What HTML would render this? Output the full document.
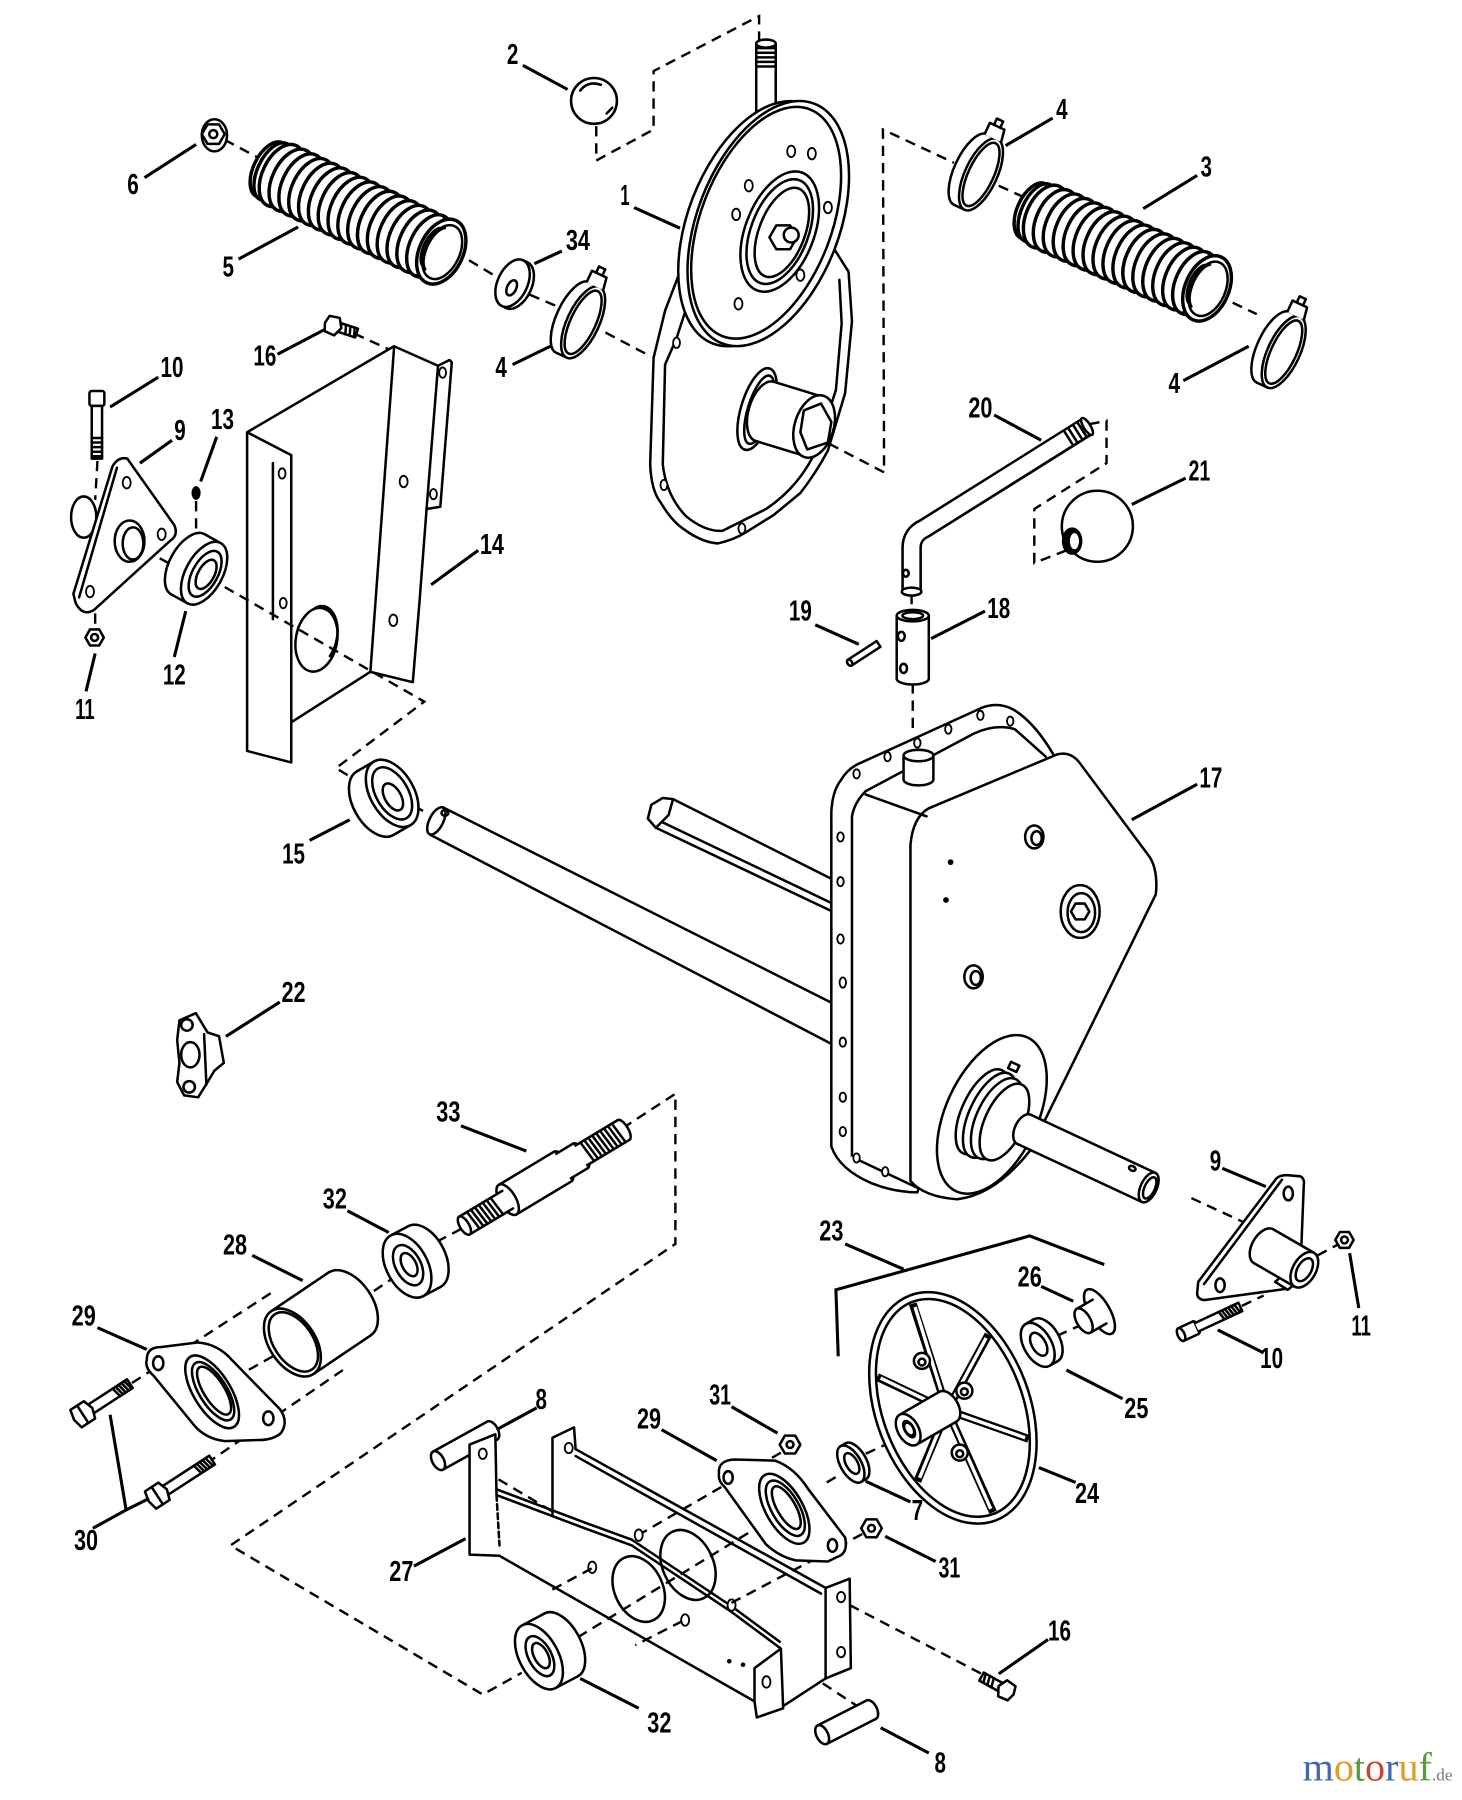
<!DOCTYPE html>
<html><head><meta charset="utf-8">
<style>
html,body{margin:0;padding:0;background:#fff;}
svg{display:block;}
.l{fill:none;stroke:#000;stroke-width:2.2;stroke-linejoin:round;stroke-linecap:round}
.w{fill:#fff;stroke:#000;stroke-width:2.2;stroke-linejoin:round}
.d{fill:none;stroke:#000;stroke-width:2.1;stroke-dasharray:9 6}
.ld{fill:none;stroke:#000;stroke-width:2.7}
.r{fill:#fff;stroke:#000;stroke-width:3}
.h{fill:#fff;stroke:#000;stroke-width:1.6}
text.n{font-family:"Liberation Sans",sans-serif;font-weight:bold;font-size:25px;fill:#000;text-anchor:middle}
</style></head><body>
<svg width="1462" height="1800" viewBox="0 0 1275 1570" preserveAspectRatio="none" xmlns="http://www.w3.org/2000/svg" xmlns:xlink="http://www.w3.org/1999/xlink">
<defs>
<g id="rg"><ellipse cx="12" rx="17" ry="29" class="r"/><ellipse cx="21.5" rx="17" ry="29" class="r"/><ellipse cx="31" rx="17" ry="29" class="r"/><ellipse cx="40.5" rx="17" ry="29" class="r"/><ellipse cx="50" rx="17" ry="29" class="r"/><ellipse cx="59.5" rx="17" ry="29" class="r"/></g>
<g id="bel">
<ellipse cx="0" rx="14" ry="26" class="r" stroke-width="3.4"/>
<ellipse cx="4" rx="14" ry="27" class="r"/>
<use href="#rg"/>
<use href="#rg" transform="translate(57,0)"/>
<use href="#rg" transform="translate(95,0)"/>
<path d="M155,-28H166V28H155Z" fill="#fff"/>
<path d="M155,-28H166M155,28H166" class="l"/>
<ellipse cx="166" rx="19" ry="30" class="r"/>
<ellipse cx="167" rx="15" ry="25" class="l" stroke-width="2.4"/>
<path class="l" stroke-width="3" d="M160,-20 A10,21 0 0,0 160,20 M156,-18 A9,19 0 0,0 156,18"/>
</g>
<g id="clamp">
<ellipse cx="-5" rx="14" ry="34" class="w"/>
<path d="M-5,-34H5V34H-5Z" fill="#fff"/>
<path d="M-5,-34H5M-5,34H5" class="l"/>
<ellipse cx="5" rx="14" ry="34" class="w" stroke-width="2.4"/>
<ellipse cx="5" rx="11" ry="30" class="l" stroke-width="1.4"/>
<path d="M-7,-33 L-7,-44 L7,-44 L9,-33" class="w"/>
<path d="M-3,-44 v-6 h6 v6" class="l"/>
</g>
</defs>
<rect x="0" y="0" width="1275" height="1570" fill="#fff"/>

<g class="d">
<path d="M520,110 L520,140 L570,113 L570,62 L662,14 L662,36"/>
<path d="M196,122 L224,137 M409,227 L434,242 M462,257 L490,269 M528,290 L564,309"/>
<path d="M723,387 L771,412 L770,113 L832,142"/>
<path d="M871,162 L893,172 M1075,264 L1096,274 M309,291 L342,306"/>
<path d="M950,370 L965,367 L965,404 L902,444 L902,491 L930,480"/>
<path d="M795,518 L795,532 M796,596 L796,640 M85,402 L83,436 M171,437 L171,470 M126,480 L160,498 M83,535 L83,550 M361,703 L372,709"/>
<path d="M543,984 L589,954 L589,1085 L201,1348 L421,1478 L455,1459"/>
<path d="M381,1083 L402,1072 M326,1126 L341,1116 M236,1128 L114,1207 M299,1195 L185,1273 M238,1183 L213,1197 M409,1275 L530,1347"/>
<path d="M1039,1045 L1104,1075 M1149,1095 L1166,1086 M1083,1139 L1102,1130 M877,1195 L891,1189 M922,1165 L940,1157"/>
<path d="M755,1268 L781,1256 M721,1293 L733,1286 M741,1400 L860,1462 M705,1460 L752,1491"/>
</g>

<circle cx="518" cy="88" r="20" class="w"/>
<path class="l" d="M506,79 Q513,70 524,74 M529,99 l5,-5"/>

<g transform="translate(668,38) rotate(90)"><ellipse cx="66" rx="3.5" ry="8.5" class="w"/><path d="M0,-8.5H66V8.5H0Z" fill="#fff"/><path d="M0,-8.5H66M0,8.5H66" class="l"/><path d="M4,-8.5V8.5M8,-8.5V8.5M12,-8.5V8.5M16,-8.5V8.5M20,-8.5V8.5" class="l" stroke-width="1.3"/><ellipse rx="3.5" ry="8.5" class="w"/></g>
<path class="w" stroke-width="2.5" d="M622,138 L593,237 L580,271 L570,312 L567,405 Q568,428 576,438 Q586,455 597,462 Q612,473 626,474 Q640,471 651,464 L675,449 L698,430 Q712,412 722,393 L737,343 L743,280 L740,237 L728,218 Z"/>
<path class="l" d="M606,246 L590,295 L580,318 L578,405 Q581,432 598,450 Q615,464 630,463 L668,444 Q698,424 713,390 L729,340 L734,282 L732,244"/>
<g class="h"><ellipse cx="590" cy="299" rx="3" ry="4.5"/><ellipse cx="579" cy="423" rx="3" ry="4.5"/><ellipse cx="647" cy="461" rx="3" ry="4.5"/></g>
<g transform="translate(670,195) rotate(21)">
<ellipse cx="-7.5" cy="3" rx="62" ry="112" class="w" stroke-width="2.5"/>
<ellipse rx="62" ry="112" class="w" stroke-width="2.5"/>
<ellipse cx="-2" rx="57" ry="106" class="l" stroke-width="1.4"/>
</g>
<g transform="translate(680,202) rotate(21)">
<ellipse rx="30" ry="55" class="w" stroke-width="2.6"/>
<ellipse rx="25" ry="48" class="l"/>
<ellipse cx="2" rx="20" ry="41" class="l" stroke-width="1.3"/>
</g>
<polygon points="695,207 689,217.4 677,217.4 671,207 677,196.6 689,196.6" class="w" stroke-width="2.8"/>
<circle cx="690" cy="205" r="6.5" class="w" stroke-width="2.4"/>
<g class="h"><ellipse cx="690" cy="132" rx="3.5" ry="5"/><ellipse cx="708" cy="134" rx="3.5" ry="5"/><ellipse cx="653" cy="162" rx="3.5" ry="5"/><ellipse cx="642" cy="187" rx="3.5" ry="5"/><ellipse cx="722" cy="181" rx="3.5" ry="5"/><ellipse cx="698" cy="240" rx="3.5" ry="5"/><ellipse cx="644" cy="265" rx="3.5" ry="5"/></g>
<g transform="translate(710,372) rotate(17)">
<ellipse cx="-52" rx="14" ry="37" class="w" stroke-width="2.6"/>
<ellipse cx="-50" rx="10" ry="31" class="l"/>
<ellipse cx="-45" rx="14" ry="27" class="w"/>
<path d="M-45,-27H0V27H-45Z" fill="#fff"/>
<path d="M-45,-27H0M-45,27H0" class="l"/>
<ellipse rx="17" ry="28" class="w" stroke-width="2.5"/>
</g>
<polygon points="701,358 716,352 725,368 722,386 704,392 698,377" class="w"/>

<use href="#clamp" transform="translate(504,279) rotate(25)"/>
<use href="#clamp" transform="translate(851,150) rotate(25)"/>
<use href="#clamp" transform="translate(1115,305) rotate(25)"/>
<use href="#bel" transform="translate(235,148) rotate(25.5)"/>
<use href="#bel" transform="translate(901,184) rotate(24)"/>

<g transform="translate(447,247) rotate(25)"><ellipse cx="4" rx="13" ry="22" class="w"/><path d="M0,-22H4V22H0Z" fill="#fff"/><path d="M0,-22H4M0,22H4" class="l"/><ellipse rx="13" ry="22" class="w"/><ellipse cx="1" cy="4" rx="4" ry="7" class="l"/></g>
<ellipse cx="187" cy="118" rx="11" ry="14" class="w"/>
<polygon points="196,117 191,125.5 181,125.5 176,117 181,108.5 191,108.5" class="w" stroke-width="2.4"/>
<circle cx="186" cy="117" r="3.5" class="l"/>

<g transform="translate(291,284) rotate(18)"><path class="w" d="M6,-4H21V4H6Z"/><path d="M10,-4l2,8M14,-4l2,8M18,-4l2,8" class="l" stroke-width="1.2"/><polygon points="-6,-7 3,-8 7,0 3,8 -6,7 -8,0" class="w" stroke-width="2.4"/></g>

<path class="w" d="M215.5,377 L343.6,302 L382,319 L392,314 L394,316 L384,442 L372,444 L366,523 L360,595 L323,586 L254,630 L254,665 L215.5,655 Z"/>
<path class="l" d="M343.6,304 L323,586 M382,319 L372,444 M254,397 L254,630 M215.5,377 L254,397"/>
<line class="l" x1="238" y1="404" x2="238" y2="540" stroke-width="1.6"/>
<g transform="translate(276,558) rotate(10)"><ellipse rx="18" ry="28" class="l"/><path class="l" d="M-6,-27 A16,26 0 0,1 14,12" stroke-width="1.5"/></g>
<g class="h"><ellipse cx="246" cy="413" rx="3" ry="4.5"/><ellipse cx="247" cy="526" rx="3" ry="4.5"/><ellipse cx="352" cy="420" rx="3.5" ry="5"/><ellipse cx="378" cy="431" rx="3" ry="4.5"/><ellipse cx="386" cy="325" rx="3" ry="4.5"/><ellipse cx="343" cy="541" rx="3.5" ry="5"/></g>
<path class="d" d="M196,512 L370,612 L293,670 L313,682"/>

<ellipse cx="73" cy="451" rx="11" ry="18" class="w"/>
<path class="w" d="M98,407 Q103,398 111,400 L152,458 Q156,467 148,472 L82,532 Q72,538 66,526 L64,518 Z"/>
<line class="l" x1="102" y1="408" x2="69" y2="521" stroke-width="1.6"/>
<g class="h"><ellipse cx="110.5" cy="421" rx="3.5" ry="5"/><ellipse cx="141" cy="466" rx="3.5" ry="5"/><ellipse cx="78.5" cy="516" rx="3.5" ry="5"/></g>
<ellipse cx="113" cy="472" rx="13" ry="18" class="w"/>
<ellipse cx="116" cy="474" rx="9" ry="14" class="l"/>
<rect x="78" y="341" width="13" height="13" rx="2" class="w"/>
<rect x="80" y="354" width="9" height="46" class="w"/>
<path d="M80,382h9M80,386h9M80,390h9M80,394h9M80,398h9" class="l" stroke-width="1.3"/>
<ellipse cx="171" cy="430" rx="4" ry="6" fill="#000"/>
<g transform="translate(178,500) rotate(29)"><ellipse cx="-16" rx="16" ry="30" class="w"/><path d="M-16,-30H0V30H-16Z" fill="#fff"/><path d="M-16,-30H0M-16,30H0" class="l"/><ellipse rx="16" ry="30" class="w" stroke-width="2.4"/><ellipse cx="1" rx="11" ry="22" class="l" stroke-width="2.4"/><ellipse cx="2" rx="7" ry="14" class="l"/></g>
<polygon points="90.5,556 86.5,563 78.5,563 74.5,556 78.5,549 86.5,549" class="w" stroke-width="2.3"/>
<circle cx="82.5" cy="556" r="3" class="l"/>

<g transform="translate(342,692) rotate(-30)"><ellipse cx="-17" rx="19" ry="32" class="w"/><path d="M-17,-32H0V32H-17Z" fill="#fff"/><path d="M-17,-32H0M-17,32H0" class="l"/><ellipse rx="19" ry="32" class="w" stroke-width="2.4"/><ellipse rx="14" ry="25" class="l" stroke-width="1.4"/><ellipse cx="-1" cy="3" rx="7" ry="13" class="w" stroke-width="2.4"/></g>

<path class="w" d="M386,704 L728,876 L728,912 L375,728 Z"/>
<g transform="translate(380.5,716) rotate(27)"><ellipse rx="6" ry="13" class="w"/></g>
<ellipse cx="388" cy="709" rx="3" ry="2.5" class="l"/>
<path class="w" d="M587,697 L728,768 L728,796 L572,722 L565,714 Z"/>
<line class="l" x1="569" y1="713" x2="728" y2="789"/>
<polygon points="578,696 587,697 583,711 572,722 565,714 568,702" class="w"/>

<path class="w" stroke-width="3" d="M725,1000 L725,708 Q726,690 733,681 Q738,672 747,667 L857,617 Q871,612 884,619 Q902,630 918,657 L922,663 L800,1040 Q780,1040 760,1032 Q732,1020 725,1000 Z"/>
<path class="l" d="M743,1008 L743,712 Q745,700 755,690 L849,640 Q868,631 885,636 L912,660 M745,1010 L800,1036"/>
<path class="w" stroke-width="2.4" d="M794,1030 L794,737 Q796,713 810,705 L922,658 Q934,655 942,666 L1003,748 Q1010,760 1008,780 L898,1004 Q868,1042 835,1046 Q806,1044 794,1030 Z"/>
<line class="l" x1="755" y1="693" x2="808" y2="712"/>
<g class="h">
<ellipse cx="747" cy="675" rx="2.8" ry="4"/><ellipse cx="774" cy="660" rx="2.8" ry="4"/><ellipse cx="800" cy="648" rx="2.8" ry="4"/><ellipse cx="827" cy="636" rx="2.8" ry="4"/><ellipse cx="855" cy="624" rx="2.8" ry="4"/><ellipse cx="881" cy="629" rx="2.8" ry="4"/>
<ellipse cx="733" cy="730" rx="2.8" ry="4"/><ellipse cx="733" cy="769" rx="2.8" ry="4"/><ellipse cx="733" cy="819" rx="2.8" ry="4"/><ellipse cx="735" cy="857" rx="2.8" ry="4.5"/><ellipse cx="735" cy="909" rx="2.8" ry="4"/><ellipse cx="735" cy="957" rx="2.8" ry="4"/><ellipse cx="735" cy="987" rx="2.8" ry="4"/><ellipse cx="747" cy="1010" rx="2.8" ry="4"/><ellipse cx="772" cy="1022" rx="2.8" ry="4"/>
</g>
<g transform="translate(801,659) rotate(90)"><ellipse cx="21" rx="5" ry="13" class="w"/><path d="M0,-13H21V13H0Z" fill="#fff"/><path d="M0,-13H21M0,13H21" class="l"/><ellipse rx="5" ry="13" class="w"/></g>
<ellipse cx="902" cy="730" rx="8" ry="10" class="w" stroke-width="2.4"/>
<ellipse cx="904" cy="731" rx="4.5" ry="6" class="l"/>
<circle cx="829" cy="752" r="2.5" fill="#000"/>
<circle cx="825" cy="785" r="2.5" fill="#000"/>
<ellipse cx="942" cy="795" rx="17" ry="23" class="w" stroke-width="2.4"/>
<ellipse cx="943" cy="796" rx="12" ry="17" class="l"/>
<polygon points="950,795 946,801.9 938,801.9 934,795 938,788.1 946,788.1" class="w" stroke-width="2.4"/>
<ellipse cx="849" cy="852" rx="8" ry="10" class="w" stroke-width="2.4"/>
<ellipse cx="851" cy="853" rx="4.5" ry="6" class="l"/>
<g transform="translate(865,972) rotate(25)"><ellipse rx="40" ry="74" class="w" stroke-width="2.4"/></g>
<g transform="translate(866,974) rotate(25)">
<ellipse cx="-10" rx="18" ry="40" class="w" stroke-width="2.6"/>
<ellipse cx="-3" rx="18" ry="40" class="w" stroke-width="2.6"/>
<ellipse cx="4" rx="18" ry="38" class="w" stroke-width="2.6"/>
<ellipse cx="11" rx="17" ry="36" class="w" stroke-width="2.4"/>
<path d="M-6,-44 h8 v-6 h-8z" class="w"/>
</g>
<g transform="translate(893,985) rotate(25)"><ellipse rx="8" ry="14" class="w"/><path d="M0,-14H120V14H0Z" fill="#fff"/><path d="M0,-14H120M0,14H120" class="l"/><ellipse cx="120" rx="7" ry="14" class="w"/><ellipse cx="121" rx="4.5" ry="10" class="l"/><ellipse cx="100" cy="-9" rx="3" ry="2" class="l"/></g>

<g transform="translate(796,537) rotate(90)"><ellipse cx="55" rx="5" ry="14" class="w"/><path d="M0,-14H55V14H0Z" fill="#fff"/><path d="M0,-14H55M0,14H55" class="l"/><ellipse rx="5" ry="14" class="w"/><ellipse rx="3" ry="9" class="l"/></g>
<ellipse cx="786" cy="555" rx="3" ry="4" class="l"/>
<ellipse cx="788" cy="583" rx="3" ry="4" class="l"/>
<g transform="translate(741,578) rotate(-33)"><path d="M0,-3H30V3H0Z" class="w"/><ellipse rx="2" ry="3" class="w"/></g>
<path d="M795,516 L795,478 Q795,466 806,461 L948,372" stroke="#000" stroke-width="18" fill="none"/>
<path d="M795,514 L795,478 Q795,466 806,461 L946,373" stroke="#fff" stroke-width="13.5" fill="none"/>
<ellipse cx="795" cy="516" rx="8.5" ry="3.5" class="w"/>
<ellipse cx="790" cy="500" rx="2.5" ry="3" class="l"/>
<path class="l" stroke-width="1.3" d="M928,376 l7,11 M932,374 l7,11 M936,371 l7,11 M940,369 l7,11 M944,366 l6,10"/>
<g transform="translate(948,372) rotate(-32)"><ellipse rx="3" ry="8.5" class="w"/></g>
<circle cx="957" cy="459" r="31" class="w" stroke-width="2.4"/>
<ellipse cx="935" cy="472" rx="9" ry="12" fill="#000"/>
<ellipse cx="937" cy="472" rx="4" ry="7" fill="#fff"/>

<path class="w" stroke-width="2.5" d="M156.5,890 L170.8,883.7 L181,900.5 L191,903.8 L195.2,927.1 L187,933.8 L179,947.1 L172.8,957.1 L160.6,955.4 L154.5,943.8 L156.5,927.1 L154.5,907.1 Z"/>
<circle cx="163" cy="894" r="5" class="w" stroke-width="2.4"/>
<circle cx="165" cy="948" r="5" class="w" stroke-width="2.4"/>
<ellipse cx="166" cy="920" rx="8" ry="11" class="w" stroke-width="2.6"/>
<line class="l" x1="178" y1="902" x2="180" y2="946"/>

<g transform="translate(405,1069) rotate(-31)">
<ellipse cx="118" rx="5" ry="12.5" class="w"/>
<ellipse cx="162" rx="4" ry="10" class="w"/>
<path d="M118,-10H162V10H118Z" fill="#fff"/>
<path d="M118,-10H162M118,10H162" class="l"/>
<path class="l" stroke-width="1.4" d="M124,-10l2,20M128,-10l2,20M132,-10l2,20M136,-10l2,20M140,-10l2,20M144,-10l2,20M148,-10l2,20M152,-10l2,20M156,-10l2,20"/>
<ellipse cx="100" rx="6" ry="15" class="w"/>
<path d="M100,-12.5H118V12.5H100Z" fill="#fff"/>
<path d="M100,-12.5H118M100,12.5H118" class="l"/>
<path d="M44,-15H100V15H44Z" fill="#fff"/>
<path d="M44,-15H100M44,15H100" class="l"/>
<ellipse cx="44" rx="7" ry="15" class="w"/>
<path d="M0,-9H44V9H0Z" fill="#fff"/>
<path d="M0,-9H44M0,9H44" class="l"/>
<path class="l" stroke-width="1.4" d="M8,-9l2,18M12,-9l2,18M16,-9l2,18M20,-9l2,18M24,-9l2,18M28,-9l2,18M32,-9l2,18"/>
<ellipse rx="4" ry="9" class="w"/>
</g>

<g transform="translate(355,1104) rotate(-28)"><ellipse cx="17" rx="18" ry="30" class="w"/><path d="M0,-30H17V30H0Z" fill="#fff"/><path d="M0,-30H17M0,30H17" class="l"/><ellipse rx="18" ry="30" class="w" stroke-width="2.4"/><ellipse cx="1" rx="11" ry="19" class="l" stroke-width="2.6"/><ellipse cx="2" rx="6" ry="11" class="w"/></g>
<g transform="translate(255,1171) rotate(-34)"><ellipse cx="60" rx="20" ry="33" class="w"/><path d="M0,-33H60V33H0Z" fill="#fff"/><path d="M0,-33H60M0,33H60" class="l"/><ellipse rx="20" ry="33" class="w" stroke-width="2.4"/><ellipse cx="1" rx="17" ry="29" class="l"/></g>

<path class="w" stroke-width="2.4" d="M128,1186 Q128,1175 140,1175 L172,1171 Q190,1172 203,1187 L244,1229 Q252,1240 245,1250 Q238,1256 226,1256 L196,1257 Q180,1255 170,1244 L134,1200 Q126,1193 128,1186 Z"/>
<ellipse cx="138" cy="1189" rx="4.5" ry="6" class="w"/>
<ellipse cx="234" cy="1237" rx="4.5" ry="6" class="w"/>
<g transform="translate(185,1214) rotate(-32)"><ellipse rx="16" ry="36" class="w" stroke-width="2.4"/><ellipse cx="1" rx="12" ry="29" class="l" stroke-width="2.6"/><ellipse cx="2" rx="9" ry="24" class="l" stroke-width="1.3"/></g>
<g transform="translate(73,1233) rotate(-33)"><path d="M8,-4.5H48V4.5H8Z" class="w"/><path class="l" stroke-width="1.3" d="M33,-4.5l2,9M36,-4.5l2,9M39,-4.5l2,9M42,-4.5l2,9M45,-4.5l2,9"/><polygon points="-8,-9 6,-9 9,0 6,9 -8,9 -10,0" class="w" stroke-width="2.4"/><line x1="-1" y1="-9" x2="-1" y2="9" class="l" stroke-width="1.3"/></g>
<g transform="translate(138,1304) rotate(-33)"><path d="M8,-4.5H56V4.5H8Z" class="w"/><path class="l" stroke-width="1.3" d="M40,-4.5l2,9M43,-4.5l2,9M46,-4.5l2,9M49,-4.5l2,9M52,-4.5l2,9"/><polygon points="-8,-9 6,-9 9,0 6,9 -8,9 -10,0" class="w" stroke-width="2.4"/><line x1="-1" y1="-9" x2="-1" y2="9" class="l" stroke-width="1.3"/></g>

<g transform="translate(382,1274) rotate(-29)"><ellipse cx="54" rx="5" ry="9" class="w"/><path d="M0,-9H54V9H0Z" fill="#fff"/><path d="M0,-9H54M0,9H54" class="l"/><ellipse rx="5" ry="9" class="w"/></g>
<g transform="translate(717,1513) rotate(-27)"><ellipse cx="48" rx="5" ry="9" class="w"/><path d="M0,-9H48V9H0Z" fill="#fff"/><path d="M0,-9H48M0,9H48" class="l"/><ellipse rx="5" ry="9" class="w"/></g>

<path class="w" d="M481.8,1254 L500.6,1245 L502,1264 L720,1385 L741,1377 L742,1455 L720,1464 L680,1490 L481.8,1322 Z"/>
<path class="l" d="M502,1270 L716,1390 M720,1385 L720,1464"/>
<g class="h"><ellipse cx="496" cy="1263" rx="3.5" ry="4.5"/><ellipse cx="733.5" cy="1393" rx="3.5" ry="4.5"/><ellipse cx="733.5" cy="1441" rx="3.5" ry="4.5"/></g>
<path class="w" d="M409.5,1260 L432,1251 L433,1304 L510,1333 L551,1348 L638,1406 L681,1438 L683,1490 L660,1498 L658,1484 L435.6,1357 L409.5,1356 Z"/>
<path class="l" stroke-width="1.8" d="M433,1299 L510,1328 L551,1343 L638,1401 L680,1432"/>
<line class="l" x1="433" y1="1304" x2="435.6" y2="1348" stroke-width="1.5" stroke-dasharray="5 3"/>
<path class="l" d="M658,1455 L658,1484 M658,1455 L681,1438"/>
<g transform="translate(557,1386) rotate(-25)"><ellipse rx="21" ry="30" class="l"/></g>
<g transform="translate(600,1365) rotate(-25)"><ellipse rx="22" ry="32" class="l"/></g>
<g class="h"><ellipse cx="421" cy="1268" rx="3.5" ry="4.5"/><ellipse cx="516.5" cy="1367" rx="3.5" ry="5"/><ellipse cx="557" cy="1339" rx="3.5" ry="5"/><ellipse cx="597.5" cy="1413" rx="3.5" ry="5"/><ellipse cx="638" cy="1400" rx="3.5" ry="5"/><ellipse cx="668.4" cy="1467" rx="3.5" ry="5"/></g>
<circle cx="636" cy="1449" r="2" fill="#000"/>
<circle cx="648" cy="1452" r="2" fill="#000"/>
<path class="d" d="M504,1428 L687,1316 M516,1368 L477,1389 M595,1414 L554,1435 M681,1267 L560,1337 M752,1338 L638,1398"/>

<path class="w" stroke-width="2.4" d="M627,1285 Q626,1274 640,1273 L676,1274 Q693,1280 705,1299 L737,1341 Q740,1355 730,1358 L722,1362 L694,1361 Q680,1358 668,1347 L632,1297 Q626,1292 627,1285 Z"/>
<ellipse cx="635" cy="1288.7" rx="4" ry="5.5" class="w"/>
<ellipse cx="726" cy="1348" rx="4" ry="5.5" class="w"/>
<g transform="translate(684,1316) rotate(-30)"><ellipse rx="16" ry="34" class="w" stroke-width="2.4"/><ellipse cx="1" rx="12" ry="27" class="l" stroke-width="2.6"/><ellipse cx="2" rx="8" ry="21" class="l" stroke-width="1.3"/></g>
<polygon points="698,1260 693.5,1267.8 684.5,1267.8 680,1260 684.5,1252.2 693.5,1252.2" class="w" stroke-width="2.4"/>
<circle cx="689" cy="1260" r="3" class="l"/>
<polygon points="769,1333 764.5,1340.8 755.5,1340.8 751,1333 755.5,1325.2 764.5,1325.2" class="w" stroke-width="2.4"/>
<circle cx="760" cy="1333" r="3" class="l"/>
<g transform="translate(742,1277) rotate(-30)"><ellipse cx="5" rx="9" ry="18" class="w"/><path d="M0,-18H5V18H0Z" fill="#fff"/><path d="M0,-18H5M0,18H5" class="l"/><ellipse rx="9" ry="18" class="w" stroke-width="2.4"/><ellipse cx="1" rx="5" ry="10" class="w"/></g>

<g transform="translate(470,1445) rotate(-28)"><ellipse cx="22" rx="17" ry="31" class="w"/><path d="M0,-31H22V31H0Z" fill="#fff"/><path d="M0,-31H22M0,31H22" class="l"/><ellipse rx="17" ry="31" class="w" stroke-width="2.4"/><ellipse cx="1" rx="10" ry="19" class="l" stroke-width="2.6"/><ellipse cx="2" rx="6" ry="12" class="w"/></g>
<g transform="translate(877,1474) rotate(209)"><path d="M6,-4H24V4H6Z" class="w"/><path d="M12,-4l2,8M16,-4l2,8M20,-4l2,8" class="l" stroke-width="1.2"/><polygon points="-6,-7 3,-8 7,0 3,8 -6,7 -8,0" class="w" stroke-width="2.4"/></g>

<g transform="translate(831,1228) rotate(-21)"><ellipse rx="67" ry="105" class="w" stroke-width="2.8"/><ellipse rx="61" ry="99" class="l" stroke-width="2"/></g>
<path d="M826,1230 L866,1319 M826,1230 L796,1137 M826,1230 L897,1255 M826,1230 L800,1292 M826,1230 L765,1201 M826,1230 L862,1164" stroke="#000" stroke-width="7" fill="none"/>
<path d="M826,1230 L864,1316 M826,1230 L798,1140 M826,1230 L894,1254 M826,1230 L802,1289 M826,1230 L768,1202 M826,1230 L860,1167" stroke="#fff" stroke-width="3" fill="none"/>
<g class="w"><circle cx="804" cy="1187" r="7"/><circle cx="841" cy="1213" r="7"/><circle cx="837" cy="1267" r="7"/></g>
<g class="l"><circle cx="804" cy="1188" r="3"/><circle cx="841" cy="1214" r="3"/><circle cx="837" cy="1268" r="3"/></g>
<g transform="translate(792,1247) rotate(-30)"><ellipse cx="40" rx="9" ry="15" class="w"/><path d="M0,-15H40V15H0Z" fill="#fff"/><path d="M0,-15H40M0,15H40" class="l"/><ellipse rx="9" ry="15" class="w" stroke-width="2.4"/><ellipse cx="1" rx="5" ry="9" fill="#000"/><ellipse cx="1" rx="2.5" ry="5" fill="#fff"/></g>
<g transform="translate(905,1173) rotate(-30)"><ellipse cx="8" rx="12" ry="21" class="w"/><path d="M0,-21H8V21H0Z" fill="#fff"/><path d="M0,-21H8M0,21H8" class="l"/><ellipse rx="12" ry="21" class="w" stroke-width="2.4"/><ellipse cx="1" rx="6" ry="11" class="w"/></g>
<g transform="translate(945,1152) rotate(-30)"><ellipse cx="16" rx="9" ry="22" class="w" stroke-width="2.4"/><path d="M0,-12H16V12H0Z" fill="#fff"/><path d="M0,-12H16M0,12H16" class="l"/><ellipse rx="6" ry="12" class="w"/></g>
<path class="ld" d="M731,1183 L729,1125 L898,1078 L963,1103"/>

<path class="w" d="M1045,1118 L1113,1028 Q1116,1025 1122,1025 L1134,1026 Q1138,1028 1137,1034 L1135,1085 L1123,1124 L1050,1134 Q1044,1133 1044,1128 Z"/>
<line class="l" x1="1050" y1="1120" x2="1118" y2="1029" stroke-width="1.6"/>
<ellipse cx="1123.5" cy="1041" rx="4" ry="6" class="w"/>
<ellipse cx="1064" cy="1121" rx="4" ry="6" class="w"/>
<polygon points="1112,1118 1124,1108 1132,1118 1123,1125" class="w"/>
<g transform="translate(1137.5,1107.5) rotate(210)"><ellipse cx="41" rx="10" ry="17" class="w"/><path d="M0,-17H41V17H0Z" fill="#fff"/><path d="M0,-17H41M0,17H41" class="l"/><ellipse rx="10" ry="17" class="w" stroke-width="2.4"/><ellipse rx="6" ry="11" class="w"/></g>
<polygon points="1180.5,1081.5 1176.5,1088.4 1168.5,1088.4 1164.5,1081.5 1168.5,1074.6 1176.5,1074.6" class="w" stroke-width="2.3"/>
<circle cx="1172.5" cy="1081.5" r="3" class="l"/>
<g transform="translate(1030,1164) rotate(-25)"><ellipse cx="14" rx="3" ry="6" class="w"/><path d="M14,-4H57V4H14Z" class="w"/><path class="l" stroke-width="1.3" d="M38,-4l2,8M41,-4l2,8M44,-4l2,8M47,-4l2,8M50,-4l2,8M53,-4l2,8"/><path d="M0,-6H14V6H0Z" fill="#fff"/><path d="M0,-6H14M0,6H14" class="l"/><ellipse rx="3" ry="6" class="w"/></g>

<path class="ld" d="M456,57 L495,78 M126,155 L171,126 M208,226 L260,198 M553,181 L593,199 M466,230 L490,219 M447,318 L480,302 M877,127 L918,103 M997,182 L1044,153 M1032,332 L1089,302 M242,309 L284,287 M96,355 L138,329 M122,404 L150,384 M175,420 L189,381 M376,510 L417,480 M162,533 L152,573 M83,570 L75,603"/>
<path class="ld" d="M867,362 L908,384 M987,440 L1034,417 M711,545 L749,562 M812,557 L859,533 M987,715 L1044,684 M270,733 L305,715 M197,904 L244,874 M402,982 L459,1004 M303,1056 L339,1075 M220,1095 L264,1117 M85,1158 L128,1177 M81,1333 L110,1317 L96,1234 M110,1317 L130,1307"/>
<path class="ld" d="M433,1247 L468,1228 M361,1366 L406,1342 M506,1464 L557,1490 M577,1247 L625,1274 M638,1227 L678,1250 M737,1085 L788,1107 M908,1122 L936,1135 M930,1195 L979,1220 M906,1280 L938,1293 M755,1292 L794,1310 M772,1340 L816,1362 M871,1460 L914,1430 M768,1507 L810,1529 M1066,1019 L1104,1035 M1177,1093 L1185,1141 M1062,1160 L1102,1180"/>

<text class="n" x="447" y="56" textLength="10" lengthAdjust="spacingAndGlyphs">2</text>
<text class="n" x="116" y="169" textLength="10" lengthAdjust="spacingAndGlyphs">6</text>
<text class="n" x="199" y="241" textLength="10" lengthAdjust="spacingAndGlyphs">5</text>
<text class="n" x="545" y="179" textLength="8" lengthAdjust="spacingAndGlyphs">1</text>
<text class="n" x="504" y="218" textLength="21" lengthAdjust="spacingAndGlyphs">34</text>
<text class="n" x="437" y="329" textLength="10" lengthAdjust="spacingAndGlyphs">4</text>
<text class="n" x="926" y="104" textLength="10" lengthAdjust="spacingAndGlyphs">4</text>
<text class="n" x="1052" y="154" textLength="10" lengthAdjust="spacingAndGlyphs">3</text>
<text class="n" x="1024" y="343" textLength="10" lengthAdjust="spacingAndGlyphs">4</text>
<text class="n" x="231" y="319" textLength="20" lengthAdjust="spacingAndGlyphs">16</text>
<text class="n" x="150" y="329" textLength="20" lengthAdjust="spacingAndGlyphs">10</text>
<text class="n" x="157" y="384" textLength="10" lengthAdjust="spacingAndGlyphs">9</text>
<text class="n" x="194" y="374" textLength="20" lengthAdjust="spacingAndGlyphs">13</text>
<text class="n" x="429" y="483" textLength="21" lengthAdjust="spacingAndGlyphs">14</text>
<text class="n" x="152" y="597" textLength="20" lengthAdjust="spacingAndGlyphs">12</text>
<text class="n" x="74" y="627" textLength="17" lengthAdjust="spacingAndGlyphs">11</text>
<text class="n" x="855" y="364" textLength="21" lengthAdjust="spacingAndGlyphs">20</text>
<text class="n" x="1046" y="419" textLength="19" lengthAdjust="spacingAndGlyphs">21</text>
<text class="n" x="698" y="541" textLength="20" lengthAdjust="spacingAndGlyphs">19</text>
<text class="n" x="871" y="539" textLength="20" lengthAdjust="spacingAndGlyphs">18</text>
<text class="n" x="1056" y="687" textLength="20" lengthAdjust="spacingAndGlyphs">17</text>
<text class="n" x="256" y="753" textLength="20" lengthAdjust="spacingAndGlyphs">15</text>
<text class="n" x="256" y="874" textLength="21" lengthAdjust="spacingAndGlyphs">22</text>
<text class="n" x="391" y="978" textLength="21" lengthAdjust="spacingAndGlyphs">33</text>
<text class="n" x="292" y="1054" textLength="21" lengthAdjust="spacingAndGlyphs">32</text>
<text class="n" x="205" y="1094" textLength="21" lengthAdjust="spacingAndGlyphs">28</text>
<text class="n" x="73" y="1156" textLength="21" lengthAdjust="spacingAndGlyphs">29</text>
<text class="n" x="75" y="1352" textLength="21" lengthAdjust="spacingAndGlyphs">30</text>
<text class="n" x="472" y="1229" textLength="10" lengthAdjust="spacingAndGlyphs">8</text>
<text class="n" x="350" y="1379" textLength="21" lengthAdjust="spacingAndGlyphs">27</text>
<text class="n" x="575" y="1511" textLength="21" lengthAdjust="spacingAndGlyphs">32</text>
<text class="n" x="566" y="1246" textLength="21" lengthAdjust="spacingAndGlyphs">29</text>
<text class="n" x="628" y="1225" textLength="19" lengthAdjust="spacingAndGlyphs">31</text>
<text class="n" x="725" y="1082" textLength="21" lengthAdjust="spacingAndGlyphs">23</text>
<text class="n" x="898" y="1122" textLength="21" lengthAdjust="spacingAndGlyphs">26</text>
<text class="n" x="991" y="1237" textLength="21" lengthAdjust="spacingAndGlyphs">25</text>
<text class="n" x="948" y="1311" textLength="21" lengthAdjust="spacingAndGlyphs">24</text>
<text class="n" x="800" y="1326" textLength="10" lengthAdjust="spacingAndGlyphs">7</text>
<text class="n" x="828" y="1376" textLength="19" lengthAdjust="spacingAndGlyphs">31</text>
<text class="n" x="924" y="1431" textLength="20" lengthAdjust="spacingAndGlyphs">16</text>
<text class="n" x="820" y="1546" textLength="10" lengthAdjust="spacingAndGlyphs">8</text>
<text class="n" x="1060" y="1021" textLength="10" lengthAdjust="spacingAndGlyphs">9</text>
<text class="n" x="1187" y="1165" textLength="17" lengthAdjust="spacingAndGlyphs">11</text>
<text class="n" x="1109" y="1193" textLength="20" lengthAdjust="spacingAndGlyphs">10</text>

<text x="1136" y="1553" font-family="Liberation Serif, serif" font-size="35"><tspan fill="#4466aa">m</tspan><tspan fill="#e09a2a">o</tspan><tspan fill="#5b9a3c">t</tspan><tspan fill="#cc4433">o</tspan><tspan fill="#4466aa">r</tspan><tspan fill="#e09a2a">u</tspan><tspan fill="#5b9a3c">f</tspan><tspan fill="#777" font-size="15">.de</tspan></text>
</svg>
</body></html>
